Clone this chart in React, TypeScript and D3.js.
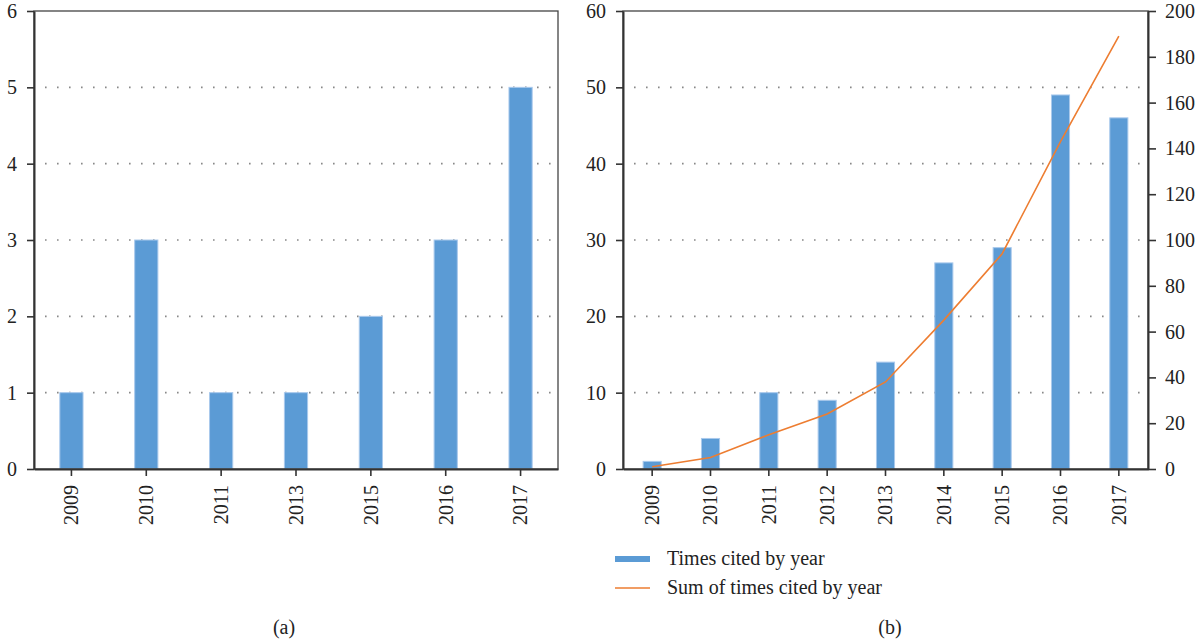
import React, { useEffect, useRef } from 'react';
import * as d3 from 'd3';

// panel (a)
const yearsA = ['2009', '2010', '2011', '2013', '2015', '2016', '2017'];
const countsA = [1, 3, 1, 1, 2, 3, 5];

// panel (b)
const yearsB = ['2009', '2010', '2011', '2012', '2013', '2014', '2015', '2016', '2017'];
const citedByYear = [1, 4, 10, 9, 14, 27, 29, 49, 46];
const sumCited = [1, 5, 15, 24, 38, 65, 94, 143, 189];

const ticksA = [0, 1, 2, 3, 4, 5, 6];
const ticksBLeft = [0, 10, 20, 30, 40, 50, 60];
const ticksBRight = [0, 20, 40, 60, 80, 100, 120, 140, 160, 180, 200];

const W = 1204;
const H = 642;
const FONT = '"Liberation Serif", "DejaVu Serif", serif';
const FS = 20;
const BLUE = '#5b9bd5';
const BLUE_EDGE = '#a9c9ec';
const ORANGE = '#ed7d31';
const AXIS = '#333';

export default function App() {
  const ref = useRef<SVGSVGElement>(null);

  useEffect(() => {
    if (!ref.current) return;
    const svg = d3.select(ref.current);
    svg.selectAll('*').remove();
    svg.attr('font-family', FONT);

    const top = 11;
    const bottom = 469;
    const fmt = d3.format('d');

    function panel(
      left: number,
      right: number,
      cats: string[],
      vals: number[],
      yMax: number,
      yTicks: number[]
    ) {
      const g = svg.append('g');
      const x = d3.scaleBand<string>().domain(cats).range([left, right]).padding(0);
      const y = d3.scaleLinear().domain([0, yMax]).range([bottom, top]);

      // dotted grid
      g.append('g')
        .selectAll('line')
        .data(yTicks.filter(t => t > 0 && t < yMax))
        .join('line')
        .attr('x1', left + 11)
        .attr('x2', right - 4)
        .attr('y1', d => y(d))
        .attr('y2', d => y(d))
        .attr('stroke', '#888')
        .attr('stroke-width', 1.6)
        .attr('stroke-dasharray', '1.6,10.4');

      const bw = x.bandwidth() * 0.31;
      g.append('g')
        .selectAll('rect')
        .data(vals)
        .join('rect')
        .attr('x', (d, i) => (x(cats[i]) ?? 0) + x.bandwidth() / 2 - bw / 2)
        .attr('y', d => y(d))
        .attr('width', bw)
        .attr('height', d => bottom - y(d))
        .attr('fill', BLUE)
        .attr('stroke', BLUE_EDGE)
        .attr('stroke-width', 1);

      // frame
      g.append('rect')
        .attr('x', left)
        .attr('y', top)
        .attr('width', right - left)
        .attr('height', bottom - top)
        .attr('fill', 'none')
        .attr('stroke', '#444')
        .attr('stroke-width', 1.3);

      const yAxis = g.append('g')
        .attr('transform', `translate(${left},0)`)
        .call(d3.axisLeft(y).tickValues(yTicks).tickFormat(d => fmt(d as number)).tickSize(7).tickPadding(10).tickSizeOuter(0));
      yAxis.select('.domain').attr('stroke', AXIS).attr('stroke-width', 2);
      yAxis.selectAll('.tick line').attr('stroke', AXIS).attr('stroke-width', 1.6);
      yAxis.selectAll('text').attr('font-size', FS).attr('font-family', FONT).attr('fill', '#222');

      const xAxis = g.append('g')
        .attr('transform', `translate(0,${bottom})`)
        .call(d3.axisBottom(x).tickSize(7).tickSizeOuter(0));
      xAxis.select('.domain').attr('stroke', AXIS).attr('stroke-width', 2);
      xAxis.selectAll('.tick line').attr('stroke', AXIS).attr('stroke-width', 1.6);
      xAxis.selectAll('text')
        .attr('font-size', FS)
        .attr('font-family', FONT)
        .attr('fill', '#222')
        .attr('transform', 'rotate(-90)')
        .attr('text-anchor', 'end')
        .attr('x', -16)
        .attr('y', 0)
        .attr('dy', '0.34em');

      return { x, y, g };
    }

    panel(34, 558, yearsA, countsA, 6, ticksA);
    const pb = panel(623, 1148, yearsB, citedByYear, 60, ticksBLeft);

    // right axis of (b)
    const yR = d3.scaleLinear().domain([0, 200]).range([bottom, top]);
    const rAxis = svg.append('g')
      .attr('transform', 'translate(1148,0)')
      .call(d3.axisRight(yR).tickValues(ticksBRight).tickSize(8).tickPadding(9).tickSizeOuter(0));
    rAxis.select('.domain').attr('stroke', AXIS).attr('stroke-width', 2);
    rAxis.selectAll('.tick line').attr('stroke', AXIS).attr('stroke-width', 1.6);
    rAxis.selectAll('text').attr('font-size', FS).attr('font-family', FONT).attr('fill', '#222');

    const line = d3.line<number>()
      .x((d, i) => (pb.x(yearsB[i]) ?? 0) + pb.x.bandwidth() / 2)
      .y(d => yR(d));
    svg.append('path')
      .datum(sumCited)
      .attr('d', line)
      .attr('fill', 'none')
      .attr('stroke', ORANGE)
      .attr('stroke-width', 1.6);

    // legend
    const lg = svg.append('g');
    lg.append('rect').attr('x', 615).attr('y', 556).attr('width', 35).attr('height', 6).attr('fill', BLUE);
    lg.append('text').attr('x', 667).attr('y', 565).attr('font-size', FS).attr('fill', '#222').text('Times cited by year');
    lg.append('line').attr('x1', 615).attr('x2', 650).attr('y1', 588).attr('y2', 588)
      .attr('stroke', ORANGE).attr('stroke-width', 1.6);
    lg.append('text').attr('x', 667).attr('y', 594).attr('font-size', FS).attr('fill', '#222').text('Sum of times cited by year');

    // captions
    svg.append('text').attr('x', 284).attr('y', 634).attr('text-anchor', 'middle')
      .attr('font-size', FS).attr('fill', '#222').text('(a)');
    svg.append('text').attr('x', 890).attr('y', 634).attr('text-anchor', 'middle')
      .attr('font-size', FS).attr('fill', '#222').text('(b)');
  }, []);

  return (
    <svg
      ref={ref}
      width={W}
      height={H}
      style={{ position: 'absolute', left: 0, top: 0, background: '#fff' }}
    />
  );
}
